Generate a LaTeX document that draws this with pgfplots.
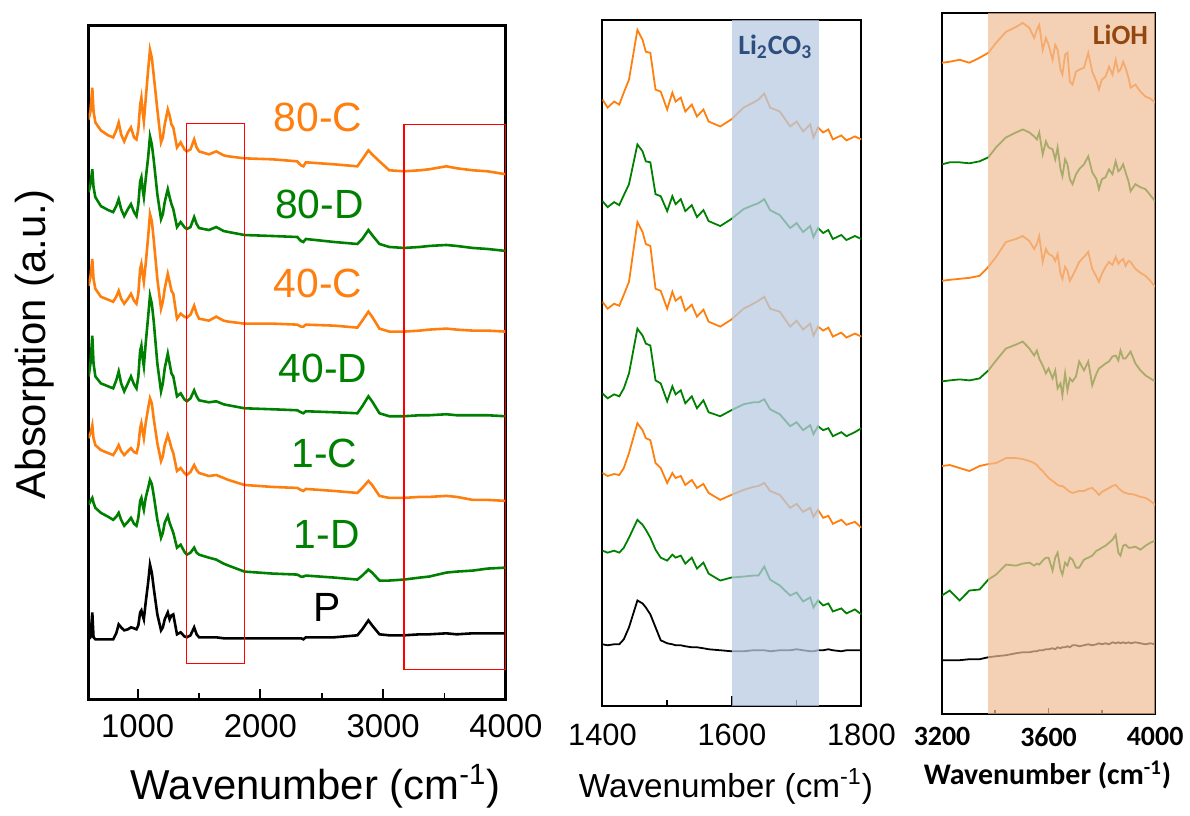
\documentclass[border=0pt]{standalone}
\usepackage{fontspec}
\setmainfont{Liberation Sans}
\newfontfamily\calibri{Carlito}
\usepackage{pgfplots}
\usepackage{pgfplotstable}
\pgfplotsset{compat=1.18}

\definecolor{cor}{RGB}{255,127,14}
\definecolor{cgr}{RGB}{0,128,0}
\definecolor{shblue}{RGB}{184,203,226}
\definecolor{shor}{RGB}{240,190,150}
\definecolor{txblue}{RGB}{46,78,126}
\definecolor{txbrown}{RGB}{148,70,15}

% y values are image rows (top = small), so the axes use y dir=reverse
\pgfplotstableread{
x    c80 d80 c40 d40 c1  d1  p
600  120 193 287 378 440 507 642
615  112 185 278 365 435 503 640
630  88  170 260 337 427 500 615
640  112 188 280 365 440 505 640
655  123 198 290 378 447 510 642
700  131 207 298 385 452 515 642
760  136 211 301 388 455 519 642
800  138 213 303 390 457 522 642
825  131 207 298 382 452 519 636
845  123 200 292 373 447 515 627
865  135 210 300 385 453 522 630
890  142 217 305 393 457 528 633
920  133 210 300 385 453 524 632
945  128 205 295 378 450 520 630
970  138 213 302 386 454 526 631
990  140 217 305 390 455 528 632
1005 130 205 295 378 448 520 628
1020 105 182 270 352 430 503 615
1030 98  178 265 347 425 500 613
1040 112 190 275 360 433 507 618
1050 122 198 283 368 440 512 622
1065 100 180 265 345 425 500 605
1085 70  158 238 318 410 490 585
1100 50  137 215 297 400 482 567
1115 58  145 222 305 405 486 575
1130 75  160 240 322 420 497 590
1160 110 195 280 365 445 522 617
1190 143 220 310 393 463 540 633
1205 138 215 303 385 458 535 630
1220 125 203 290 370 447 525 622
1245 110 190 275 355 437 518 615
1260 116 198 283 365 443 525 622
1275 125 205 292 375 450 530 618
1290 128 210 295 378 455 535 617
1320 148 228 320 398 473 550 637
1350 143 223 315 395 470 547 635
1380 150 228 318 401 475 554 639
1400 152 230 319 403 477 557 640
1430 150 228 316 400 474 555 638
1460 140 218 307 392 467 550 630
1480 148 225 315 398 472 555 637
1500 152 229 320 402 475 557 640
1580 155 231 322 404 478 560 640
1640 152 228 318 403 477 562 640
1700 156 232 322 406 480 566 641
1740 157 233 323 407 482 568 641
1870 159 236 325 410 487 574 641
2100 160 237 325 411 489 576 641
2300 162 238 326 412 490 577 641
2330 166 242 328 414 492 579 641
2350 167 243 328 415 493 579 642
2370 163 240 326 413 491 578 640
2600 165 243 327 414 493 580 640
2790 167 245 329 415 495 582 638
2830 160 240 322 408 490 578 632
2880 151 231 313 398 483 572 623
2910 155 236 318 403 487 575 628
2970 162 245 330 415 498 583 637
3050 171 248 333 418 500 583 638
3170 172 249 333 418 500 582 638
3300 171 248 332 417 499 580 637
3375 170 247 331 417 499 579 637
3515 167 246 330 416 498 575 636
3600 169 247 331 417 499 574 637
3730 171 249 332 417 502 573 636
3850 172 250 332 417 502 571 636
4000 175 252 333 418 503 570 636
}\leftdata

\pgfplotstableread{
x    c80 d80 c40 d40 c1  d1  p
1400 100 202 303 395 475 553 647
1408 108 208 310 400 478 555 648
1418 102 203 305 396 476 553 647
1426 105 206 307 398 477 555 647
1433 93  196 296 390 470 550 642
1441 80  185 283 375 455 540 630
1454 30  145 223 330 425 522 603
1462 40  152 233 337 432 527 606
1467 52  162 245 345 440 532 610
1474 53  163 247 347 442 540 617
1482 90  195 290 382 465 552 630
1490 92  197 292 385 470 560 643
1500 110 212 310 403 485 563 646
1508 93  197 293 388 475 557 647
1513 102 205 302 396 480 560 648
1521 98  200 298 392 478 558 648
1528 112 212 312 405 487 566 649
1538 105 206 306 398 482 560 650
1546 117 218 318 410 490 571 650
1556 110 211 311 402 486 565 651
1564 122 222 323 414 495 576 652
1582 127 227 328 418 502 583 653
1599 120 220 321 412 497 580 654
1618 108 210 310 406 492 579 654
1633 103 206 305 404 489 578 653
1641 100 204 302 404 488 578 653
1650 94  200 298 401 485 569 653
1659 108 211 310 411 493 582 654
1674 112 216 313 416 497 588 653
1690 127 229 328 428 510 598 653
1700 122 224 322 424 506 595 652
1710 132 233 331 432 514 604 653
1721 125 227 325 427 510 600 654
1726 138 238 337 436 519 610 654
1733 128 229 328 428 512 603 653
1741 133 234 332 432 520 608 653
1749 130 231 329 430 518 606 652
1756 140 240 338 438 526 614 653
1769 136 236 334 434 522 611 654
1777 141 241 339 438 527 616 653
1790 137 237 335 434 524 612 653
1800 140 240 338 430 530 617 653
}\middata

\pgfplotstableread{
x    c80 d80 c40 d40 c1  d1  p
3200 63  165 282 383 468 598 663
3229 62  163 281 382 467 593 663
3266 60  163 280 381 470 603 663
3303 63  164 279 382 473 593 662
3341 58  162 277 380 468 592 662
3374 53  158 268 372 466 582 660
3403 43  148 258 362 465 577 659
3440 32  138 243 350 460 567 658
3478 27  133 240 346 460 568 656
3503 23  130 237 343 461 566 655
3528 28  133 242 350 463 565 655
3546 38  137 250 357 465 568 654
3556 30  140 245 352 467 566 654
3565 25  133 237 360 470 567 653
3578 50  155 263 367 473 563 653
3590 38  142 250 375 477 560 652
3600 45  148 255 370 480 560 652
3615 60  150 257 380 483 573 651
3625 45  160 262 372 485 560 652
3634 50  148 255 390 487 555 650
3645 70  170 275 385 488 572 651
3652 75  177 280 397 488 577 650
3662 55  160 268 375 490 565 650
3671 53  165 272 392 492 568 649
3680 82  180 282 380 494 560 650
3690 85  185 277 383 495 562 648
3703 72  175 270 378 494 570 648
3715 70  170 263 363 493 570 649
3733 68  165 258 372 493 562 648
3749 53  157 253 363 491 560 647
3764 72  173 270 387 490 558 648
3780 82  180 278 375 494 553 647
3789 90  190 283 370 497 552 646
3800 80  180 275 368 494 550 647
3814 77  178 268 365 492 548 646
3827 67  170 263 363 490 545 647
3840 75  175 266 358 488 542 645
3852 60  162 258 357 487 537 646
3862 72  172 265 362 490 555 645
3870 70  170 262 352 492 558 646
3880 62  165 260 360 494 548 645
3889 68  173 267 360 495 547 646
3900 78  182 262 356 496 550 645
3908 88  192 263 353 496 550 646
3926 85  185 270 365 497 549 645
3945 92  188 274 372 499 552 646
3964 97  190 277 377 500 548 647
3982 99  196 282 380 503 545 646
4000 103 202 288 383 507 543 647
}\rightdata

\pgfplotsset{
  spec/.style={
    scale only axis, anchor=south west, y dir=reverse,
    ytick=\empty, xtick pos=bottom, tick align=inside,
    major tick length=5pt, minor tick length=3pt,
    tick style={black},
    /pgf/number format/assume math mode=true,
    /pgf/number format/set thousands separator={},
  }
}

\begin{document}
\begin{tikzpicture}
\path (0,0) rectangle (595pt,407pt);

% ---- left panel: full spectra ----
\begin{axis}[spec,
  at={(44.5pt,56pt)}, width=209.5pt, height=338pt,
  xmin=600, xmax=4000, ymin=26, ymax=702,
  xtick={1000,2000,3000,4000}, minor xtick={1500,2500,3500},
  axis line style={line width=1.5pt},
  tick style={line width=1pt},
  xticklabel style={font=\fontsize{16.5}{16.5}\selectfont, yshift=-4.5pt},
]
\addplot[cor, line width=1.3pt] table[x=x, y=c80] {\leftdata};
\addplot[cgr, line width=1.3pt] table[x=x, y=d80] {\leftdata};
\addplot[cor, line width=1.3pt] table[x=x, y=c40] {\leftdata};
\addplot[cgr, line width=1.3pt] table[x=x, y=d40] {\leftdata};
\addplot[cor, line width=1.3pt] table[x=x, y=c1] {\leftdata};
\addplot[cgr, line width=1.3pt] table[x=x, y=d1] {\leftdata};
\addplot[black, line width=1.3pt] table[x=x, y=p] {\leftdata};
\draw[red, line width=0.6pt] (axis cs:1400,124) rectangle (axis cs:1870,666);
\draw[red, line width=0.6pt] (axis cs:3170,125) rectangle (axis cs:4000,672);
\begin{scope}[every node/.style={font=\fontsize{20.5}{21}\selectfont}]
\node[cor] at (axis cs:2470,118) {80-C};
\node[cgr] at (axis cs:2480,205) {80-D};
\node[cor] at (axis cs:2470,285) {40-C};
\node[cgr] at (axis cs:2510,370) {40-D};
\node[cgr] at (axis cs:2520,455) {1-C};
\node[cgr] at (axis cs:2540,537) {1-D};
\node[black] at (axis cs:2540,610) {P};
\end{scope}
\end{axis}

% ---- middle panel: Li2CO3 region ----
\begin{axis}[spec,
  at={(302.5pt,52.5pt)}, width=130pt, height=344.5pt,
  xmin=1400, xmax=1800, ymin=20, ymax=709,
  xtick={1400,1600,1800}, minor xtick={1500,1700},
  axis line style={line width=1pt},
  tick style={line width=0.8pt},
  xticklabel style={font=\fontsize{15.5}{15.5}\selectfont, yshift=-5.5pt},
]
\addplot[cor, line width=0.9pt] table[x=x, y=c80] {\middata};
\addplot[cgr, line width=0.9pt] table[x=x, y=d80] {\middata};
\addplot[cor, line width=0.9pt] table[x=x, y=c40] {\middata};
\addplot[cgr, line width=0.9pt] table[x=x, y=d40] {\middata};
\addplot[cor, line width=0.9pt] table[x=x, y=c1] {\middata};
\addplot[cgr, line width=0.9pt] table[x=x, y=d1] {\middata};
\addplot[black, line width=0.9pt] table[x=x, y=p] {\middata};
\fill[shblue, fill opacity=0.75] (axis cs:1600,20) rectangle (axis cs:1735,709);
\node[txblue, font=\calibri\bfseries\fontsize{14}{14}\selectfont] at (axis cs:1667,47) {Li\textsubscript{2}CO\textsubscript{3}};
\end{axis}

% ---- right panel: LiOH region ----
\begin{axis}[spec,
  at={(473pt,48.5pt)}, width=107pt, height=352pt,
  xmin=3200, xmax=4000, ymin=13, ymax=717,
  xtick={3200,3600,4000}, minor xtick={3400,3800},
  axis line style={line width=1.3pt},
  tick style={line width=0.8pt},
  major tick length=3pt, minor tick length=2pt,
  xticklabel style={font=\calibri\bfseries\fontsize{14}{14}\selectfont, yshift=-3pt},
]
\addplot[cor, line width=0.9pt] table[x=x, y=c80] {\rightdata};
\addplot[cgr, line width=0.9pt] table[x=x, y=d80] {\rightdata};
\addplot[cor, line width=0.9pt] table[x=x, y=c40] {\rightdata};
\addplot[cgr, line width=0.9pt] table[x=x, y=d40] {\rightdata};
\addplot[cor, line width=0.9pt] table[x=x, y=c1] {\rightdata};
\addplot[cgr, line width=0.9pt] table[x=x, y=d1] {\rightdata};
\addplot[black, line width=0.9pt] table[x=x, y=p] {\rightdata};
\fill[shor, fill opacity=0.7] (axis cs:3372,13) rectangle (axis cs:4000,717);
\node[txbrown, font=\calibri\bfseries\fontsize{14}{14}\selectfont] at (axis cs:3870,35) {LiOH};
\end{axis}

% axis titles
\node[font=\fontsize{21}{21}\selectfont] at (158.5pt,12pt) {Wavenumber (cm\textsuperscript{-1})};
\node[font=\fontsize{21}{21}\selectfont, rotate=90] at (17.5pt,234pt) {Absorption (a.u.)};
\node[font=\fontsize{16.7}{16.7}\selectfont] at (364.5pt,12pt) {Wavenumber (cm\textsuperscript{-1})};
\node[font=\calibri\bfseries\fontsize{15}{15}\selectfont] at (526pt,18pt) {Wavenumber (cm\textsuperscript{-1})};
\end{tikzpicture}
\end{document}
